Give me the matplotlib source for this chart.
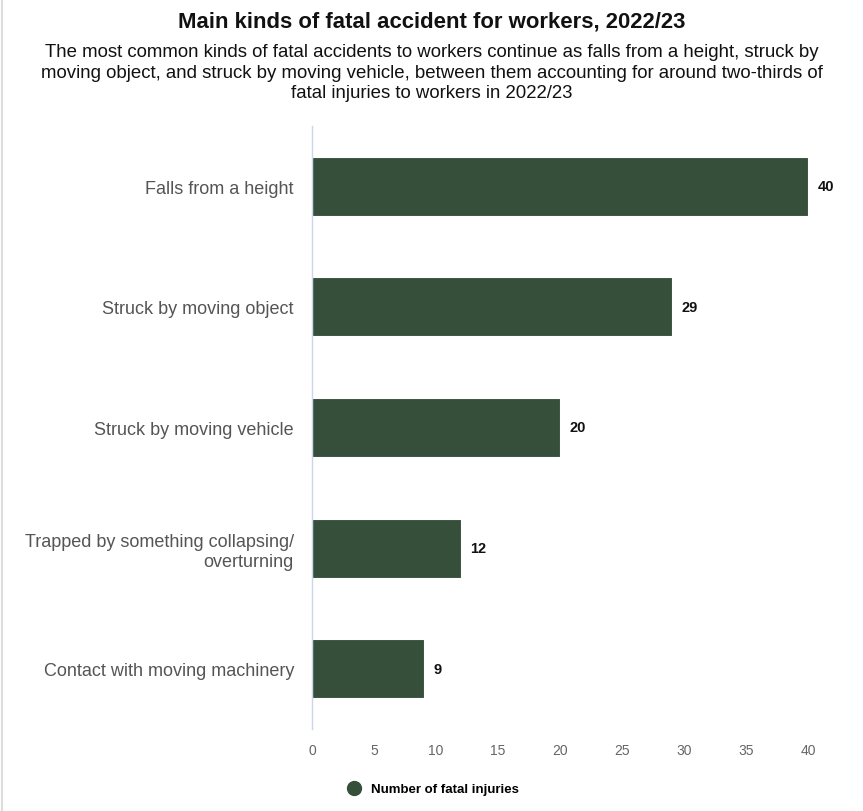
import matplotlib
matplotlib.use("Agg")
import matplotlib.pyplot as plt
from matplotlib.lines import Line2D

categories = ["Falls from a height", "Struck by moving object", "Struck by moving vehicle",
              "Trapped by something collapsing/\noverturning", "Contact with moving machinery"]
values = [40, 29, 20, 12, 9]
xticks = [0, 5, 10, 15, 20, 25, 30, 35, 40, 45]
series_name = "Number of fatal injuries"
title = "Main kinds of fatal accident for workers, 2022/23"
subtitle = ("The most common kinds of fatal accidents to workers continue as falls from a height, struck by\n"
            "moving object, and struck by moving vehicle, between them accounting for around two-thirds of\n"
            "fatal injuries to workers in 2022/23")

plt.rcParams['font.family'] = ['Liberation Sans', 'DejaVu Sans']
W, H = 863, 812
fig = plt.figure(figsize=(W/100, H/100), dpi=100)
color = "#354f3a"

left, right, top, bottom = 312, 870, 127, 730
ax = fig.add_axes([left/W, 1 - bottom/H, (right-left)/W, (bottom-top)/H])
y = list(range(len(categories)))
ax.barh(y, values, height=0.49, color=color, edgecolor='white', linewidth=0.8)
ax.set_ylim(len(categories)-0.5, -0.5)
ax.set_xlim(0, 45)
ax.set_yticks(y)
ax.set_yticklabels(categories, fontsize=13, color="#555555", linespacing=1.2)
ax.set_xticks(xticks)
ax.set_xticklabels([str(t) for t in xticks], fontsize=10, color="#666666")
ax.tick_params(axis='y', length=0, pad=13)
ax.tick_params(axis='x', length=0, pad=10)
for s in ['top', 'right', 'bottom']:
    ax.spines[s].set_visible(False)
ax.spines['left'].set_color('#ccd6eb')
ax.spines['left'].set_linewidth(1)
for yi, v in zip(y, values):
    ax.annotate(str(v), (v, yi), xytext=(7, 0), textcoords='offset points',
                va='center', ha='left', fontsize=10.5, fontweight='bold', color='#111111')

fig.text(0.5, 1 - 22/H, title, ha='center', va='center', fontsize=15.9, fontweight='bold', color='#111111')
fig.text(0.5, 1 - 73/H, subtitle, ha='center', va='center', fontsize=13.4, color='#111111',
         linespacing=1.3)

handle = Line2D([], [], marker='o', linestyle='None', markersize=10, color=color)
fig.legend([handle], [series_name], loc='center', bbox_to_anchor=(430/W, 1 - 790/H),
           frameon=False, prop={'weight': 'bold', 'size': 9.5}, handletextpad=0.3)

fig.add_artist(Line2D([1.5/W, 1.5/W], [0, 1], color='#dddddd', linewidth=1.5))
fig.savefig("out.png", dpi=100)
